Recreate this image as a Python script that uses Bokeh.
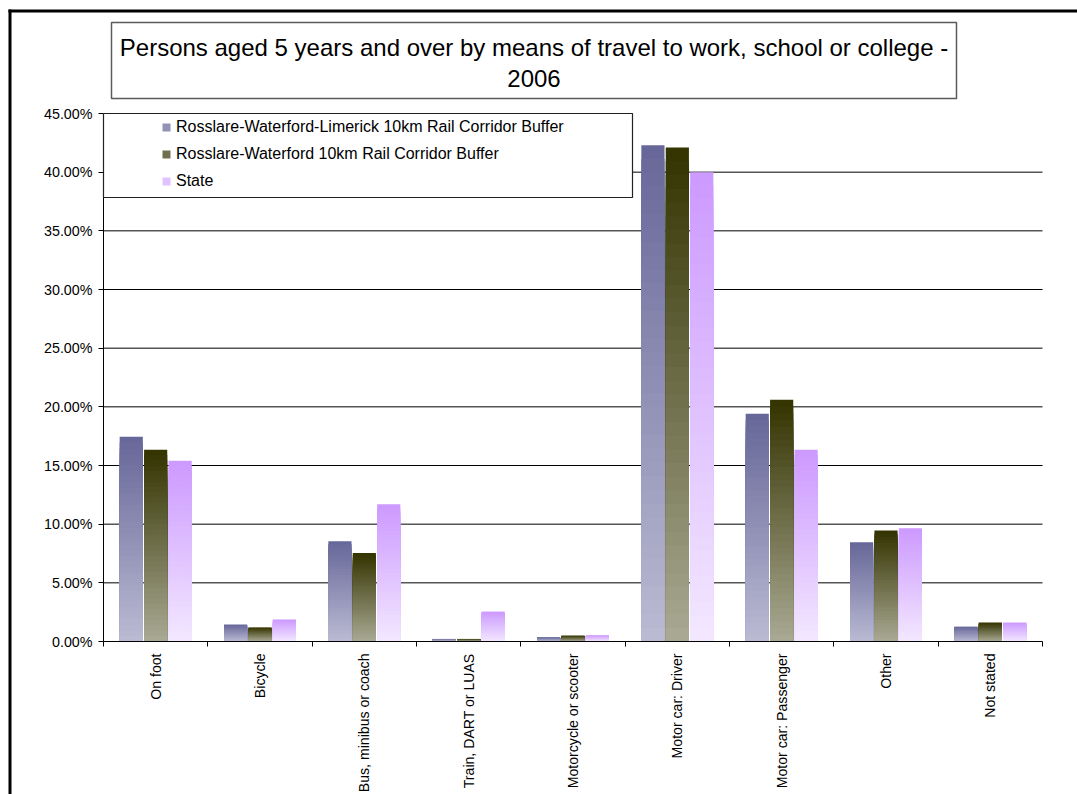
import math
from bokeh.plotting import figure
from bokeh.models import (ColumnDataSource, FixedTicker, NumeralTickFormatter, Range1d,
                          Legend, LegendItem, BoxAnnotation, Label)
from bokeh.embed import file_html
from bokeh.resources import INLINE

# ---------------- data ----------------
categories = ["On foot", "Bicycle", "Bus, minibus or coach", "Train, DART or LUAS",
              "Motorcycle or scooter", "Motor car: Driver", "Motor car: Passenger",
              "Other", "Not stated"]
series_names = ["Rosslare-Waterford-Limerick 10km Rail Corridor Buffer",
                "Rosslare-Waterford 10km Rail Corridor Buffer",
                "State"]
rwl_pct = [17.45, 1.45, 8.55, 0.22, 0.35, 42.30, 19.40, 8.45, 1.27]
rw_pct = [16.35, 1.20, 7.55, 0.22, 0.50, 42.10, 20.60, 9.45, 1.62]
state_pct = [15.40, 1.88, 11.70, 2.55, 0.52, 40.00, 16.35, 9.65, 1.62]
y_tick_pct = [0, 5, 10, 15, 20, 25, 30, 35, 40, 45]
title_lines = ["Persons aged 5 years and over by means of travel to work, school or college -",
               "2006"]

# ---------------- layout (page pixels) ----------------
W, H = 1077, 794
PL, PR, PT, PB = 103, 1042, 113, 641        # plot area edges
ncat = len(categories)
ymax = y_tick_pct[-1] / 100.0
px_per_x = (PR - PL) / ncat
px_per_y = (PB - PT) / ymax
x_start = -PL / px_per_x
x_end = (W - PL) / px_per_x
y_start = -(H - PB) / px_per_y
y_end = PB / px_per_y

top_colors = ["#666699", "#333300", "#CC99FF"]
bottom_colors = ["#BBBBD4", "#AAAA95", "#F3E8FF"]
offsets = [-0.234, 0.0, 0.234]
bar_w = 0.222
N_SEG = 36
FONT = "Liberation Sans"


def hex2rgb(h):
    h = h.lstrip("#")
    return tuple(int(h[i:i + 2], 16) for i in (0, 2, 4))


def mix(c_bot, c_top, t):
    a, b = hex2rgb(c_bot), hex2rgb(c_top)
    return "#%02x%02x%02x" % tuple(int(round(a[j] + (b[j] - a[j]) * t)) for j in range(3))


def sy(page_y):
    return H - page_y


def screen_box(left, right, top, bottom, **kw):
    return BoxAnnotation(left=left, right=right, top=top, bottom=bottom,
                         left_units="screen", right_units="screen",
                         top_units="screen", bottom_units="screen", **kw)


p = figure(width=W, height=H, x_range=Range1d(x_start, x_end), y_range=Range1d(y_start, y_end),
           output_backend="svg", toolbar_location=None,
           min_border=0, min_border_left=0, min_border_right=0,
           min_border_top=0, min_border_bottom=0)
p.outline_line_color = None
p.background_fill_color = "white"
p.border_fill_color = "white"
p.xgrid.visible = False
p.ygrid.visible = False

# horizontal gridlines over the plot area
grid_vals = [v / 100.0 for v in y_tick_pct[1:-1]]
p.segment(x0=[0] * len(grid_vals), x1=[ncat] * len(grid_vals), y0=grid_vals, y1=grid_vals,
          line_color="black", line_width=1)

# bars (gradient built from overlapping stacked quads)
renderers = []
for s, vals in enumerate([rwl_pct, rw_pct, state_pct]):
    left, right, top, bottom, color = [], [], [], [], []
    for i, v in enumerate(vals):
        x = i + 0.5 + offsets[s]
        for k in range(N_SEG):
            frac = (N_SEG - k) / N_SEG
            left.append(x - bar_w / 2)
            right.append(x + bar_w / 2)
            bottom.append(0.0)
            top.append(v / 100.0 * frac)
            color.append(mix(bottom_colors[s], top_colors[s], (N_SEG - k - 0.5) / N_SEG))
    src = ColumnDataSource(dict(left=left, right=right, top=top, bottom=bottom, color=color))
    r = p.quad(left="left", right="right", top="top", bottom="bottom", source=src,
               fill_color="color", line_color=None)
    renderers.append(r)

# x axis: labels at centres, ticks at category boundaries
xa = p.xaxis[0]
xa.fixed_location = 0
xa.bounds = (0, ncat)
xa.ticker = FixedTicker(ticks=[i + 0.5 for i in range(ncat)],
                        minor_ticks=list(range(ncat + 1)))
xa.major_label_overrides = {i + 0.5: c for i, c in enumerate(categories)}
xa.major_tick_line_color = None
xa.major_tick_out = 0
xa.major_tick_in = 0
xa.minor_tick_line_color = "black"
xa.minor_tick_out = 5
xa.minor_tick_in = 0
xa.major_label_orientation = math.pi / 2
xa.major_label_standoff = 7
xa.major_label_text_font = FONT
xa.major_label_text_font_size = "14.1px"
xa.major_label_text_color = "black"
xa.axis_line_color = "black"

# y axis
ya = p.yaxis[0]
ya.fixed_location = 0
ya.bounds = (0, ymax)
ya.ticker = FixedTicker(ticks=[v / 100.0 for v in y_tick_pct])
ya.formatter = NumeralTickFormatter(format="0.00%")
ya.major_tick_out = 5
ya.major_tick_in = 0
ya.minor_tick_line_color = None
ya.major_label_standoff = 6
ya.major_label_text_font = FONT
ya.major_label_text_font_size = "14.3px"
ya.major_label_text_color = "black"
ya.axis_line_color = "black"

# outer frame of the chart area (left and top edges only; the rest runs off the page)
p.add_layout(screen_box(8, 11, sy(9), 0, fill_color="black", fill_alpha=1, line_alpha=0))
p.add_layout(screen_box(8, W, sy(9), sy(12), fill_color="black", fill_alpha=1, line_alpha=0))

# title box
p.add_layout(screen_box(111, 956, sy(22), sy(98), fill_color="white", fill_alpha=1,
                        line_color="#5a5a5a", line_alpha=1, line_width=1.5))
for txt, yy in zip(title_lines, [47, 78]):
    p.add_layout(Label(x=533.5, y=sy(yy), x_units="screen", y_units="screen", text=txt,
                       text_align="center", text_baseline="middle",
                       text_font=FONT, text_font_size="24px", text_color="black"))

# legend box
p.add_layout(screen_box(PL, 632, sy(PT), sy(197), fill_color="white", fill_alpha=1,
                        line_color="#222222", line_alpha=1, line_width=1.2))

items = [LegendItem(label=series_names[s], renderers=[renderers[s]], index=N_SEG // 2)
         for s in range(3)]
legend = Legend(items=items, location=(161, sy(190)), padding=0, margin=0,
                glyph_width=10, glyph_height=10, label_height=10, spacing=9,
                label_standoff=5, border_line_color=None, background_fill_alpha=0,
                label_text_font=FONT, label_text_font_size="16px", label_text_color="black")
p.add_layout(legend)

open("out.html", "w").write(file_html(p, INLINE))
